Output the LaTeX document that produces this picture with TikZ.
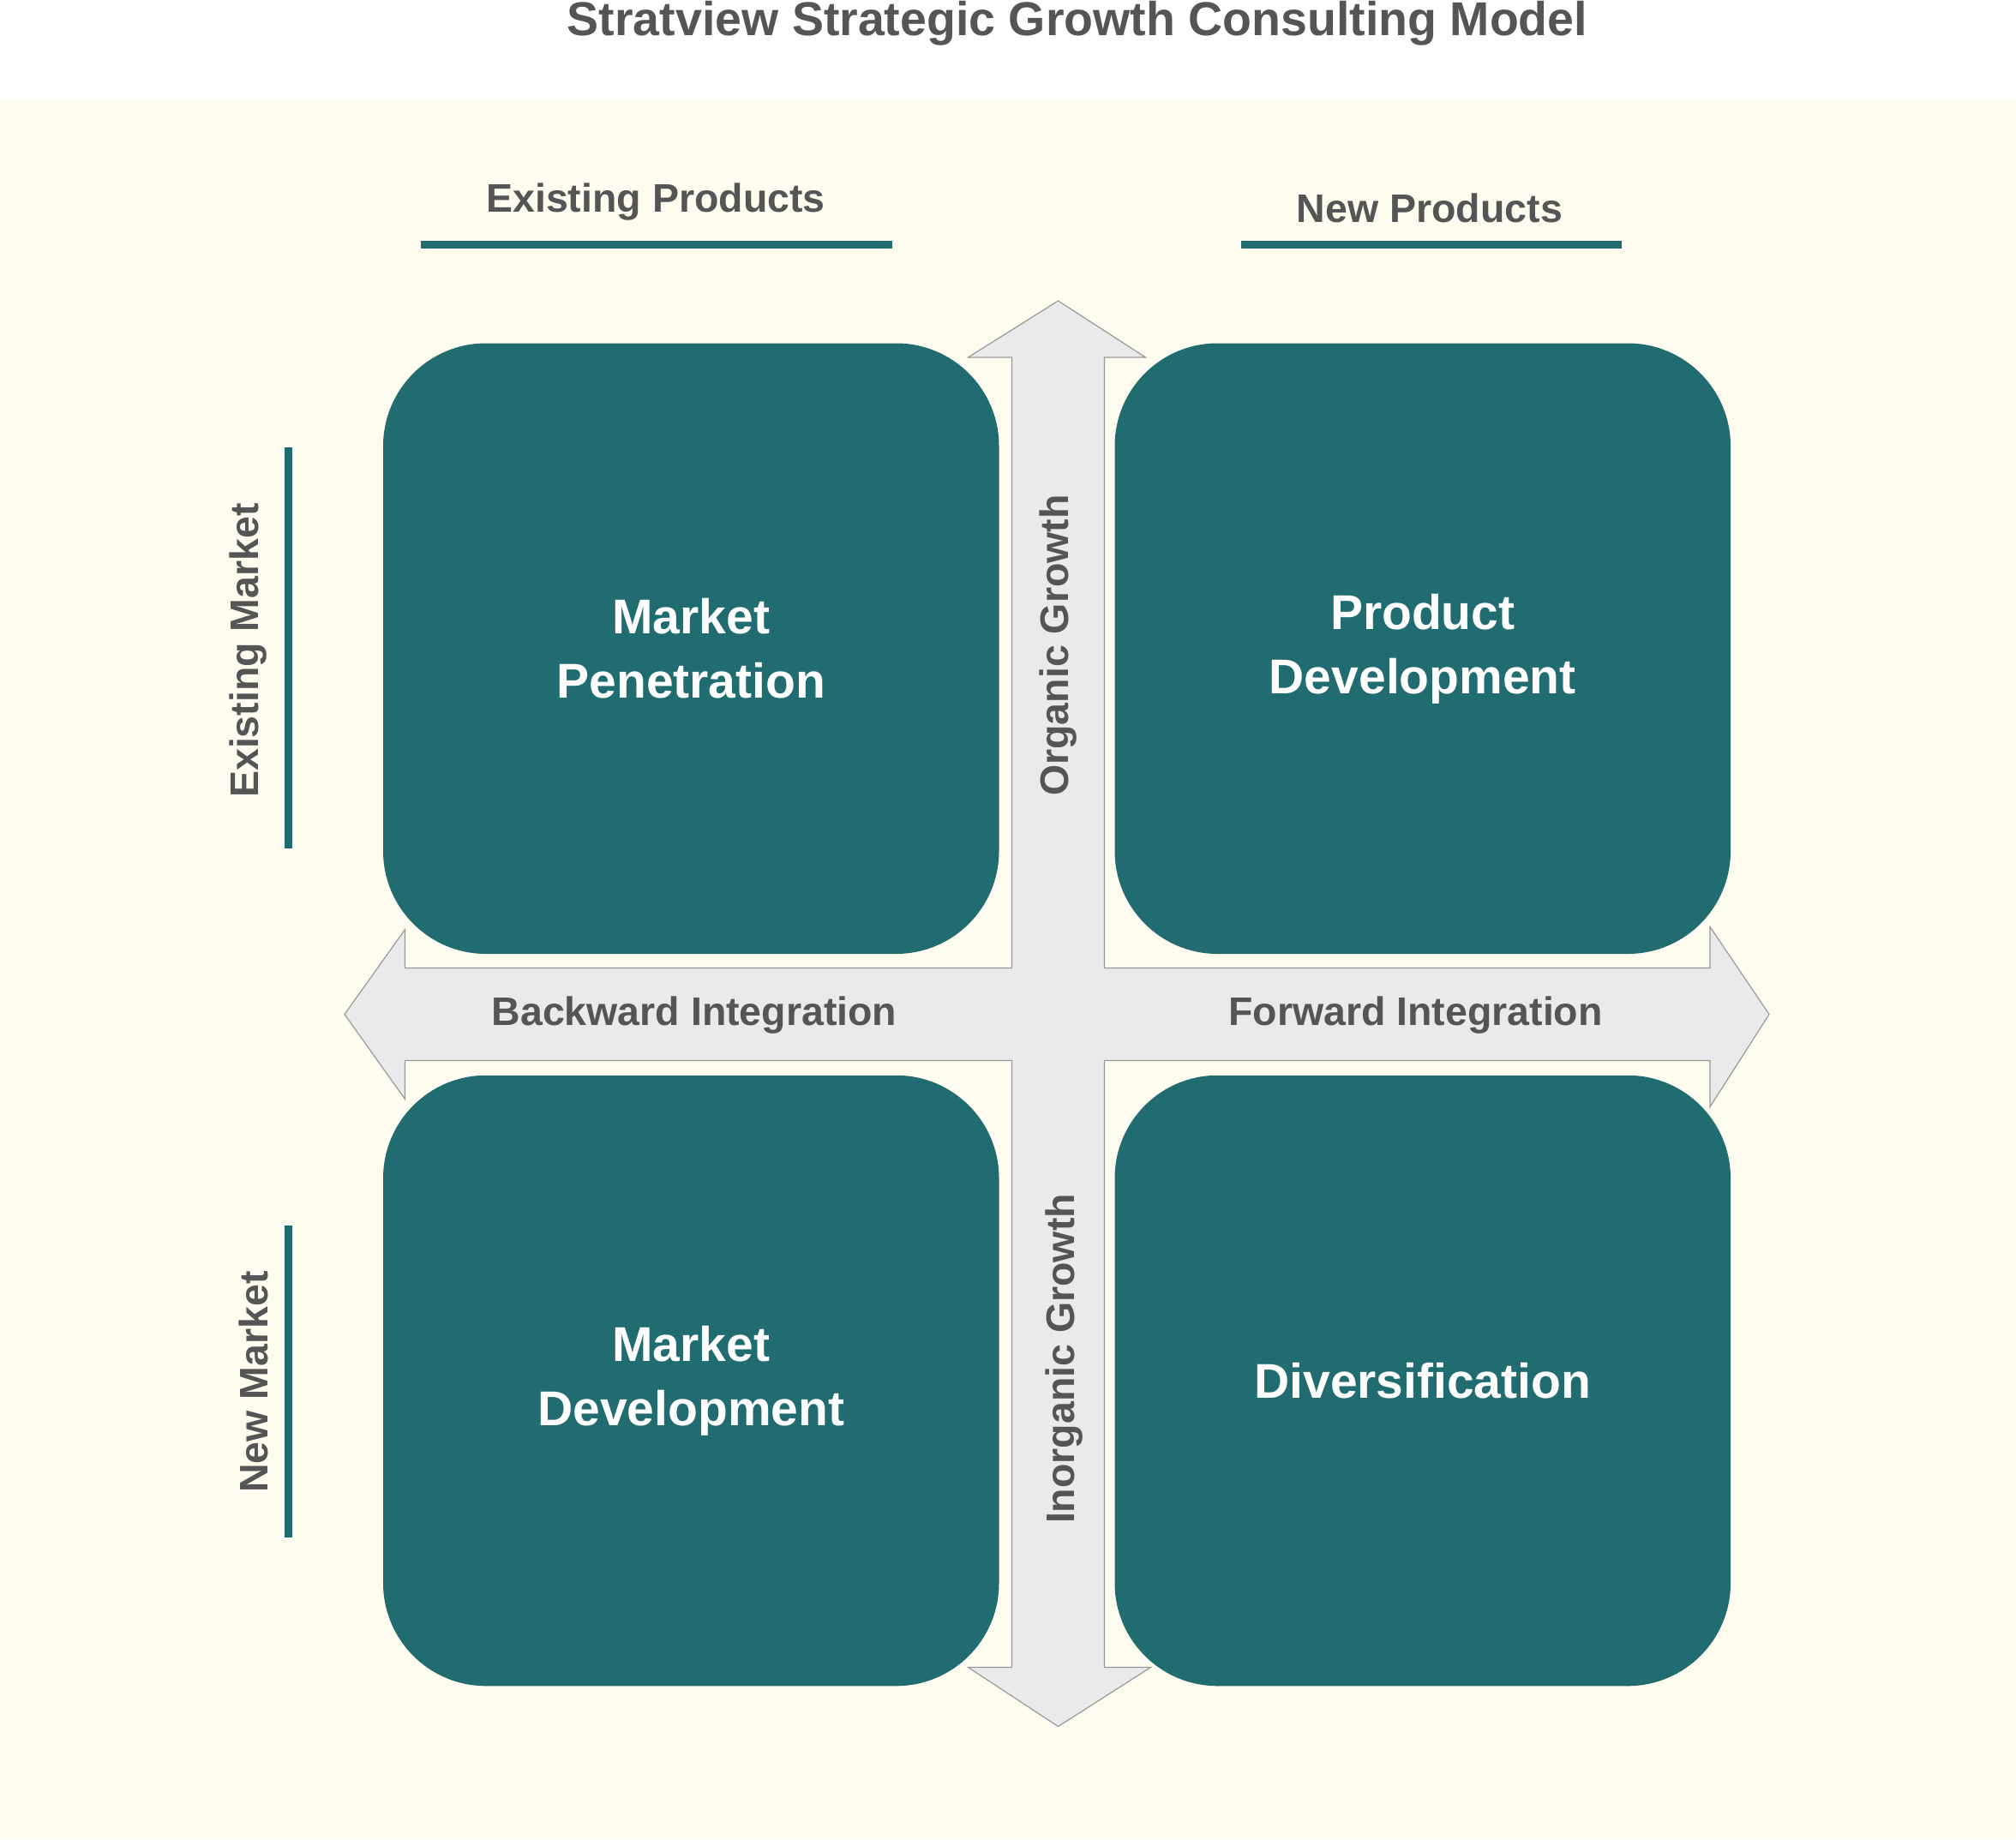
\documentclass[tikz,border=0pt]{standalone}
\usepackage{fontspec}
\setmainfont{Liberation Sans}
\begin{document}
\definecolor{teal}{HTML}{206C70}
\definecolor{cream}{HTML}{FEFCEE}
\definecolor{txt}{HTML}{555555}
\definecolor{arr}{HTML}{E9EAEA}
\begin{tikzpicture}[x=1pt,y=-1pt,
  box/.style={draw=none,fill=teal,rounded corners=80pt,minimum width=479pt,minimum height=475pt,text=white,font=\bfseries\fontsize{38}{50}\selectfont,align=center},
  lab/.style={text=txt,font=\bfseries\fontsize{31}{36}\selectfont},
  bar/.style={draw=teal,line width=6pt}]
\useasboundingbox (0,0) rectangle (1568,1430.67);
\fill[cream] (0,78) rectangle (1568,1430.67);
\node[text=txt,font=\bfseries\fontsize{37}{42}\selectfont] (title) at (838,18) {Stratview Strategic Growth Consulting Model};
\node[lab] (ep) at (510,157) {Existing Products};
\coordinate (ep1) at (327,190); \coordinate (ep2) at (694,190);
\draw[bar] (ep1) -- (ep2);
\node[lab] (np) at (1112,162) {New Products};
\coordinate (np1) at (965,190); \coordinate (np2) at (1261,190);
\draw[bar] (np1) -- (np2);
\node[lab,rotate=90] (em) at (193,506) {Existing Market};
\coordinate (em1) at (224,348); \coordinate (em2) at (224,660);
\draw[bar] (em1) -- (em2);
\node[lab,rotate=90] (nm) at (197,1075) {New Market};
\coordinate (nm1) at (224,953); \coordinate (nm2) at (224,1196);
\draw[bar] (nm1) -- (nm2);
\draw[fill=arr,draw=gray!80,line width=0.8pt] (787,753) -- (787,278) -- (753,278) -- (823,234) -- (891,278) -- (859,278) -- (859,753) -- (1330,753) -- (1330,721) -- (1376,789) -- (1330,861) -- (1330,825) -- (859,825) -- (859,1297) -- (895,1297) -- (823,1343) -- (753,1297) -- (787,1297) -- (787,825) -- (315,825) -- (315,855) -- (268,789) -- (315,723) -- (315,753) -- cycle;
\node[box] (mp) at (537.5,504.5) {Market\\Penetration};
\node[box] (pd) at (1106.5,504.5) {Product\\Development};
\node[box] (md) at (537.5,1074) {Market\\Development};
\node[box] (dv) at (1106.5,1074) {Diversification};
\node[lab,rotate=90] (og) at (823,502) {Organic Growth};
\node[lab,rotate=90] (ig) at (828,1057) {Inorganic Growth};
\node[lab] (bi) at (540,790) {Backward Integration};
\node[lab] (fi) at (1101,790) {Forward Integration};
\end{tikzpicture}
\end{document}
